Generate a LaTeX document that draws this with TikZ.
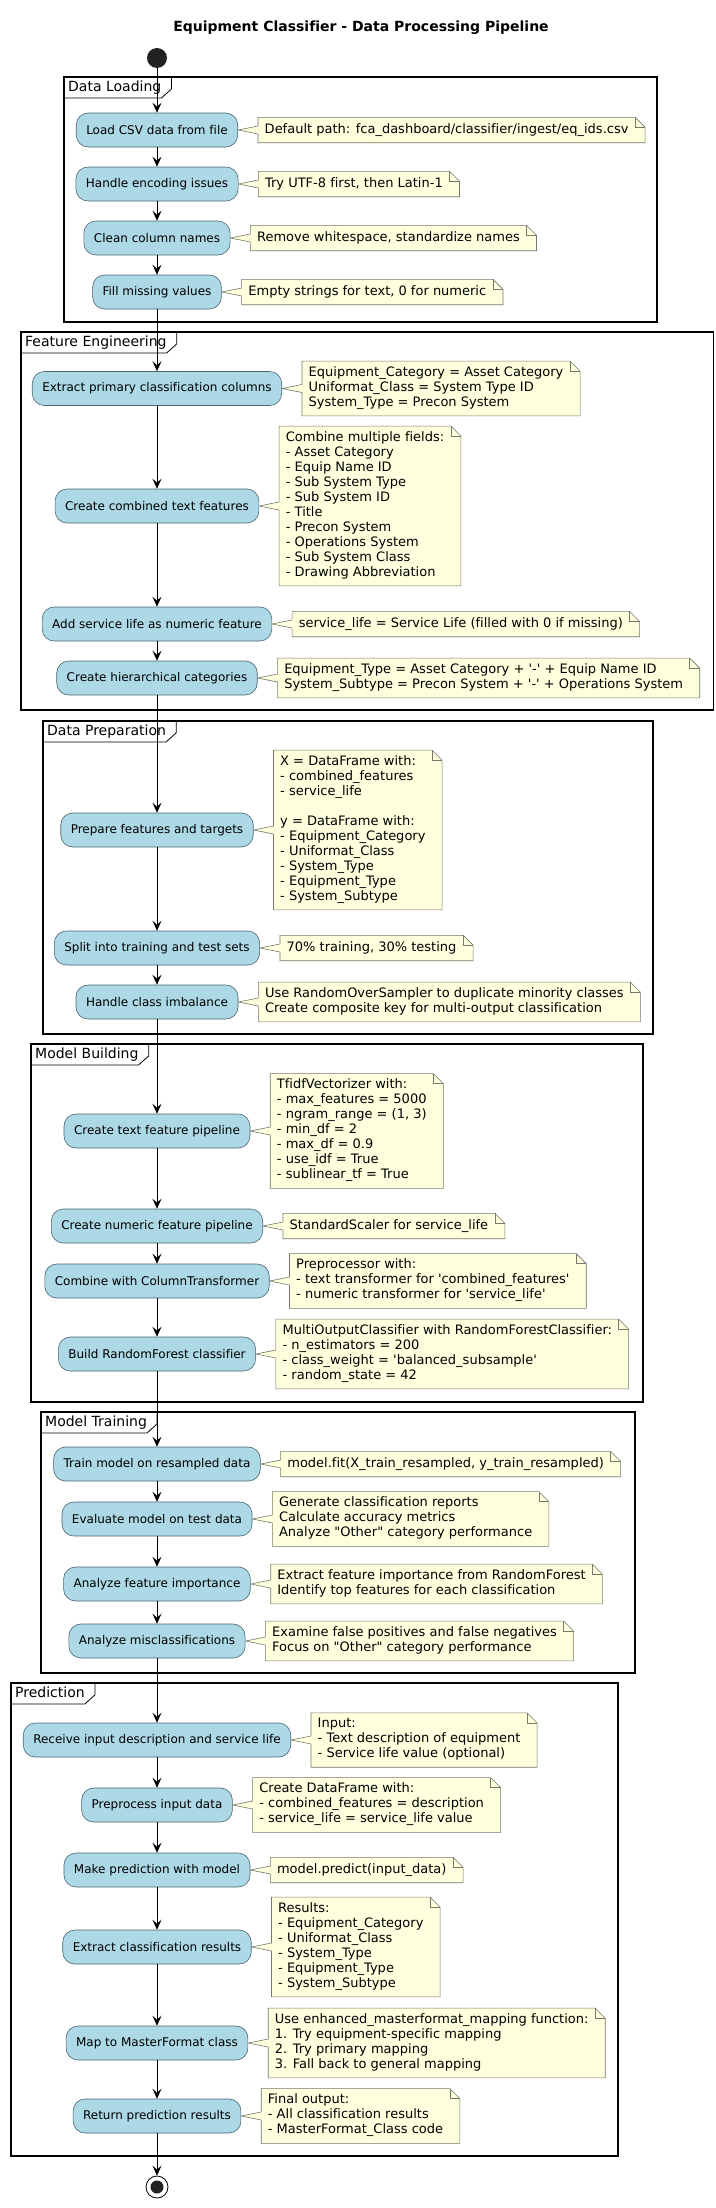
\documentclass[tikz,border=0pt]{standalone}
\usepackage{fontspec}
\setmainfont{DejaVu Sans}[Ligatures=NoCommon]
\usetikzlibrary{positioning,backgrounds,arrows.meta}
\definecolor{boxfill}{HTML}{ADD8E6}
\definecolor{boxline}{HTML}{4A6470}
\definecolor{notefill}{HTML}{FEFFDD}
\definecolor{noteline}{HTML}{77776A}
\definecolor{dotfill}{HTML}{222222}
\newcommand\sq{\textquotesingle}
\newcommand\dq{\textquotedbl}
\newcommand\notefor[2]{%
  \begin{pgfonlayer}{background}
    \path[noteshape] (#2.north west) -- (#2.north east)
      -- ([xshift=10pt,yshift=-10pt]#2.north east)
      -- ([xshift=10pt]#2.south east) -- (#2.south west)
      -- ([yshift=-4pt]#2.west) -- (#1.east) -- ([yshift=4pt]#2.west) -- cycle;
    \draw[noteshape,fill=none] (#2.north east) -- ([yshift=-10pt]#2.north east)
      -- ([xshift=10pt,yshift=-10pt]#2.north east);
  \end{pgfonlayer}}
\newcommand\pframe[4]{% name, nw, se, label
  \draw[frameline] #2 rectangle #3;
  \node[framelabel] (#1) at #2 {#4};
  \draw[tabline] ([xshift=6pt]#1.north east) -- ([xshift=6pt,yshift=9pt]#1.south east)
    -- ([xshift=-4pt]#1.south east) -- (#1.south west);}
\begin{document}
\begin{tikzpicture}[x=1pt,y=-1pt,
  stepbox/.style={draw=boxline, fill=boxfill, line width=0.6pt, rounded corners=12pt,
    minimum height=34pt, inner xsep=10pt, inner ysep=0pt, font=\fontsize{12}{14}\selectfont},
  notetext/.style={inner xsep=6.5pt, inner ysep=5pt, align=left, font=\fontsize{13}{15}\selectfont,
    execute at begin node=\strut, execute at end node=\strut},
  noteshape/.style={draw=noteline, fill=notefill, line width=0.6pt, line join=miter},
  flow/.style={draw=black, line width=0.8pt, -{Stealth[length=10pt,width=9pt,inset=4pt]}},
  frameline/.style={draw=black, line width=1.3pt},
  framelabel/.style={anchor=north west, inner xsep=4pt, inner ysep=3pt, text height=11pt,
    text depth=3.5pt, font=\fontsize{14}{16}\selectfont},
  tabline/.style={draw=black, line width=0.8pt},
]
\begin{pgfonlayer}{background}
\fill[white] (0,0) rectangle (715,2208);
\end{pgfonlayer}
\useasboundingbox (0,0) rectangle (715,2208);

\node[font=\bfseries\fontsize{14}{16}\selectfont] (title) at (361,28)
  {Equipment Classifier - Data Processing Pipeline};

% frames
\pframe{f1}{(64,77)}{(657,322)}{Data Loading}
\pframe{f2}{(21,332)}{(713.3,710)}{Feature Engineering}
\pframe{f3}{(43,721)}{(653,1034)}{Data Preparation}
\pframe{f4}{(31,1044)}{(643,1402)}{Model Building}
\pframe{f5}{(41,1412)}{(635,1673)}{Model Training}
\pframe{f6}{(11,1683)}{(618,2156)}{Prediction}

% start / end
\node[circle, fill=dotfill, minimum size=20pt, inner sep=0pt] (start) at (157,58) {};
\node[circle, draw=black, line width=0.8pt, minimum size=22pt, inner sep=0pt] (stop) at (157,2187) {};
\node[circle, fill=dotfill, minimum size=13pt, inner sep=0pt] (stopdot) at (stop) {};

% activities
\node[stepbox] (b1) at (157,130) {Load CSV data from file};
\node[stepbox] (b2) at (157,184) {Handle encoding issues};
\node[stepbox] (b3) at (157,238) {Clean column names};
\node[stepbox] (b4) at (157,292) {Fill missing values};
\node[stepbox] (b5) at (157,388.5) {Extract primary classification columns};
\node[stepbox] (b6) at (157,506) {Create combined text features};
\node[stepbox] (b7) at (157,624) {Add service life as numeric feature};
\node[stepbox] (b8) at (157,678) {Create hierarchical categories};
\node[stepbox] (b9) at (157,830) {Prepare features and targets};
\node[stepbox] (b10) at (157,948) {Split into training and test sets};
\node[stepbox] (b11) at (157,1002) {Handle class imbalance};
\node[stepbox] (b12) at (157,1131) {Create text feature pipeline};
\node[stepbox] (b13) at (157,1226) {Create numeric feature pipeline};
\node[stepbox] (b14) at (157,1281) {Combine with ColumnTransformer};
\node[stepbox] (b15) at (157,1354) {Build RandomForest classifier};
\node[stepbox] (b16) at (157,1464) {Train model on resampled data};
\node[stepbox] (b17) at (157,1519) {Evaluate model on test data};
\node[stepbox] (b18) at (157,1584) {Analyze feature importance};
\node[stepbox] (b19) at (157,1641) {Analyze misclassifications};
\node[stepbox] (b20) at (157,1740) {Receive input description and service life};
\node[stepbox] (b21) at (157,1805) {Preprocess input data};
\node[stepbox] (b22) at (157,1870) {Make prediction with model};
\node[stepbox] (b23) at (157,1947) {Extract classification results};
\node[stepbox] (b24) at (157,2043) {Map to MasterFormat class};
\node[stepbox] (b25) at (157,2116) {Return prediction results};

% connectors
\draw[flow] (start) -- (b1);
\foreach \a/\b in {b1/b2,b2/b3,b3/b4,b4/b5,b5/b6,b6/b7,b7/b8,b8/b9,b9/b10,b10/b11,b11/b12,
  b12/b13,b13/b14,b14/b15,b15/b16,b16/b17,b17/b18,b18/b19,b19/b20,b20/b21,b21/b22,b22/b23,
  b23/b24,b24/b25}
  \draw[flow] (\a) -- (\b);
\draw[flow] (b25) -- (stop);

% notes
\node[notetext, right=20pt of b1] (n1) {Default path: fca\_dashboard/classifier/ingest/eq\_ids.csv};
\node[notetext, right=20pt of b2] (n2) {Try UTF-8 first, then Latin-1};
\node[notetext, right=20pt of b3] (n3) {Remove whitespace, standardize names};
\node[notetext, right=20pt of b4] (n4) {Empty strings for text, 0 for numeric};
\node[notetext, right=20pt of b5] (n5) {Equipment\_Category = Asset Category\\Uniformat\_Class = System Type ID\\System\_Type = Precon System};
\node[notetext, right=20pt of b6] (n6) {Combine multiple fields:\\- Asset Category\\- Equip Name ID\\- Sub System Type\\- Sub System ID\\- Title\\- Precon System\\- Operations System\\- Sub System Class\\- Drawing Abbreviation};
\node[notetext, right=20pt of b7] (n7) {service\_life = Service Life (filled with 0 if missing)};
\node[notetext, right=20pt of b8] (n8) {Equipment\_Type = Asset Category + \sq-\sq{} + Equip Name ID\\System\_Subtype = Precon System + \sq-\sq{} + Operations System};
\node[notetext, right=20pt of b9] (n9) {X = DataFrame with:\\- combined\_features\\- service\_life\\[15pt]y = DataFrame with:\\- Equipment\_Category\\- Uniformat\_Class\\- System\_Type\\- Equipment\_Type\\- System\_Subtype};
\node[notetext, right=20pt of b10] (n10) {70\% training, 30\% testing};
\node[notetext, right=20pt of b11] (n11) {Use RandomOverSampler to duplicate minority classes\\Create composite key for multi-output classification};
\node[notetext, right=20pt of b12] (n12) {TfidfVectorizer with:\\- max\_features = 5000\\- ngram\_range = (1, 3)\\- min\_df = 2\\- max\_df = 0.9\\- use\_idf = True\\- sublinear\_tf = True};
\node[notetext, right=20pt of b13] (n13) {StandardScaler for service\_life};
\node[notetext, right=20pt of b14] (n14) {Preprocessor with:\\- text transformer for \sq combined\_features\sq\\- numeric transformer for \sq service\_life\sq};
\node[notetext, right=20pt of b15] (n15) {MultiOutputClassifier with RandomForestClassifier:\\- n\_estimators = 200\\- class\_weight = \sq balanced\_subsample\sq\\- random\_state = 42};
\node[notetext, right=20pt of b16] (n16) {model.fit(X\_train\_resampled, y\_train\_resampled)};
\node[notetext, right=20pt of b17] (n17) {Generate classification reports\\Calculate accuracy metrics\\Analyze \dq Other\dq{} category performance};
\node[notetext, right=20pt of b18] (n18) {Extract feature importance from RandomForest\\Identify top features for each classification};
\node[notetext, right=20pt of b19] (n19) {Examine false positives and false negatives\\Focus on \dq Other\dq{} category performance};
\node[notetext, right=20pt of b20] (n20) {Input:\\- Text description of equipment\\- Service life value (optional)};
\node[notetext, right=20pt of b21] (n21) {Create DataFrame with:\\- combined\_features = description\\- service\_life = service\_life value};
\node[notetext, right=20pt of b22] (n22) {model.predict(input\_data)};
\node[notetext, right=20pt of b23] (n23) {Results:\\- Equipment\_Category\\- Uniformat\_Class\\- System\_Type\\- Equipment\_Type\\- System\_Subtype};
\node[notetext, right=20pt of b24] (n24) {Use enhanced\_masterformat\_mapping function:\\1. Try equipment-specific mapping\\2. Try primary mapping\\3. Fall back to general mapping};
\node[notetext, right=20pt of b25] (n25) {Final output:\\- All classification results\\- MasterFormat\_Class code};

\foreach \i in {1,...,25} { \notefor{b\i}{n\i} }
\end{tikzpicture}
\end{document}
